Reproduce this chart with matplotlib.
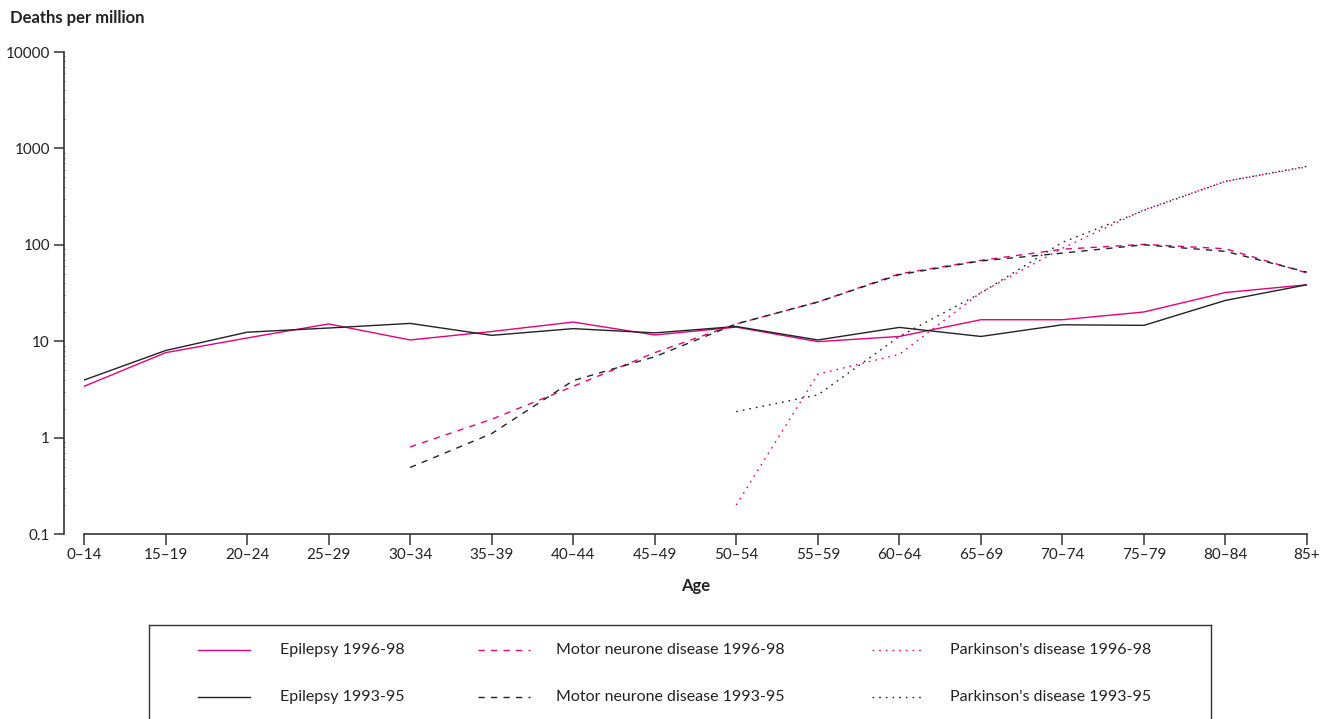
import numpy as np
import matplotlib
matplotlib.use("Agg")
import matplotlib.pyplot as plt
from matplotlib.ticker import FixedLocator, FixedFormatter, LogLocator, NullFormatter

plt.rcParams['font.family'] = ['Lato', 'DejaVu Sans']

# Age bands on the x axis
ages = ["0\u201314", "15\u201319", "20\u201324", "25\u201329", "30\u201334", "35\u201339",
        "40\u201344", "45\u201349", "50\u201354", "55\u201359", "60\u201364", "65\u201369",
        "70\u201374", "75\u201379", "80\u201384", "85+"]

# Deaths per million, one value per age band (None = not shown)
epilepsy_96 = [3.4, 7.6, 10.8, 15.1, 10.3, 12.6, 15.8, 11.6, 14.0, 9.9,
               11.2, 16.7, 16.7, 20.1, 32.0, 38.5]
epilepsy_93 = [3.95, 8.0, 12.4, 13.7, 15.3, 11.5, 13.5, 12.2, 14.2, 10.3,
               13.9, 11.2, 14.8, 14.6, 26.5, 38.5]
mnd_96 = [None, None, None, None, 0.8, 1.55, 3.4, 7.6, 15.1, 25.5,
          50.0, 68.9, 90.0, 101.0, 91.0, 51.0]
mnd_93 = [None, None, None, None, 0.49, 1.1, 3.9, 6.9, 15.1, 25.5,
          49.0, 68.0, 82.0, 100.0, 85.5, 52.0]
pd_96 = [None, None, None, None, None, None, None, None, 0.2, 4.55,
         7.3, 32.0, 92.0, 231.0, 455.0, 643.0]
pd_93 = [None, None, None, None, None, None, None, None, 1.86, 2.77,
         11.2, 31.6, 106.0, 227.0, 455.0, 652.0]

PINK = "#e6007e"
DARK = "#222222"
SOLID = "-"
DASHED = (0, (4.5, 4.5))
DOTTED = (0, (1.2, 3.6))

series = [
    ("Epilepsy 1996-98", epilepsy_96, PINK, SOLID),
    ("Epilepsy 1993-95", epilepsy_93, DARK, SOLID),
    ("Motor neurone disease 1996-98", mnd_96, PINK, DASHED),
    ("Motor neurone disease 1993-95", mnd_93, DARK, DASHED),
    ("Parkinson's disease 1996-98", pd_96, PINK, DOTTED),
    ("Parkinson's disease 1993-95", pd_93, DARK, DOTTED),
]

W, H = 1336, 719
fig = plt.figure(figsize=(W / 100, H / 100), dpi=100)
ax = fig.add_axes([84 / W, 1 - 534 / H, (1307 - 84) / W, (534 - 52) / H])

x = np.arange(len(ages))
for label, vals, color, ls in series:
    y = np.array([np.nan if v is None else v for v in vals], dtype=float)
    ax.plot(x, y, color=color, linestyle=ls, linewidth=1.0)

ax.set_yscale("log")
ax.set_ylim(0.1, 10000)
ax.set_xlim(0, len(ages) - 1)

yticks = [0.1, 1, 10, 100, 1000, 10000]
ax.yaxis.set_major_locator(FixedLocator(yticks))
ax.yaxis.set_major_formatter(FixedFormatter(["0.1", "1", "10", "100", "1000", "10000"]))
ax.yaxis.set_minor_locator(LogLocator(base=10, subs=np.arange(2, 10)))
ax.yaxis.set_minor_formatter(NullFormatter())
ax.set_xticks(x)
ax.set_xticklabels(ages)

for s in ["top", "right"]:
    ax.spines[s].set_visible(False)
# y axis sits a little to the left of the first age band
ax.spines["left"].set_position(("outward", 14.5))
for s in ["left", "bottom"]:
    ax.spines[s].set_color("#333333")
    ax.spines[s].set_linewidth(1.2)

ax.tick_params(axis="y", which="major", direction="out", length=7, width=1.1,
               color="#333333", labelsize=11, labelcolor="#222222", pad=3)
ax.tick_params(axis="y", which="minor", direction="inout", length=2.0, width=0.6,
               color="#666666")
ax.tick_params(axis="x", direction="out", length=8, width=1.1, color="#333333",
               labelsize=11, labelcolor="#222222", pad=2)

fig.text(10 / W, 1 - 18 / H, "Deaths per million", fontsize=12, fontweight="bold",
         color="#222222", ha="left", va="center")
fig.text(696 / W, 1 - 586 / H, "Age", fontsize=12, fontweight="bold",
         color="#222222", ha="center", va="center")

# Legend box, open at the bottom edge of the figure
lax = fig.add_axes([149 / W, 0, (1211 - 149) / W, (H - 625) / H])
lax.set_xlim(149, 1211)
lax.set_ylim(H, 625)
lax.set_xticks([])
lax.set_yticks([])
lax.patch.set_alpha(0)
for s in lax.spines.values():
    s.set_color("#333333")
    s.set_linewidth(1.0)
lax.spines["bottom"].set_visible(False)

col_x = [(198, 250, 280), (478, 530, 556), (872, 925, 950)]
row_y = [650, 697]
for i, (label, vals, color, ls) in enumerate(series):
    x0, x1, tx = col_x[i // 2]
    yy = row_y[i % 2]
    lax.plot([x0, x1], [yy, yy], color=color, linestyle=ls, linewidth=1.0)
    lax.text(tx, yy, label, fontsize=11.5, color="#222222", ha="left", va="center")

fig.savefig("out.png", dpi=100)
